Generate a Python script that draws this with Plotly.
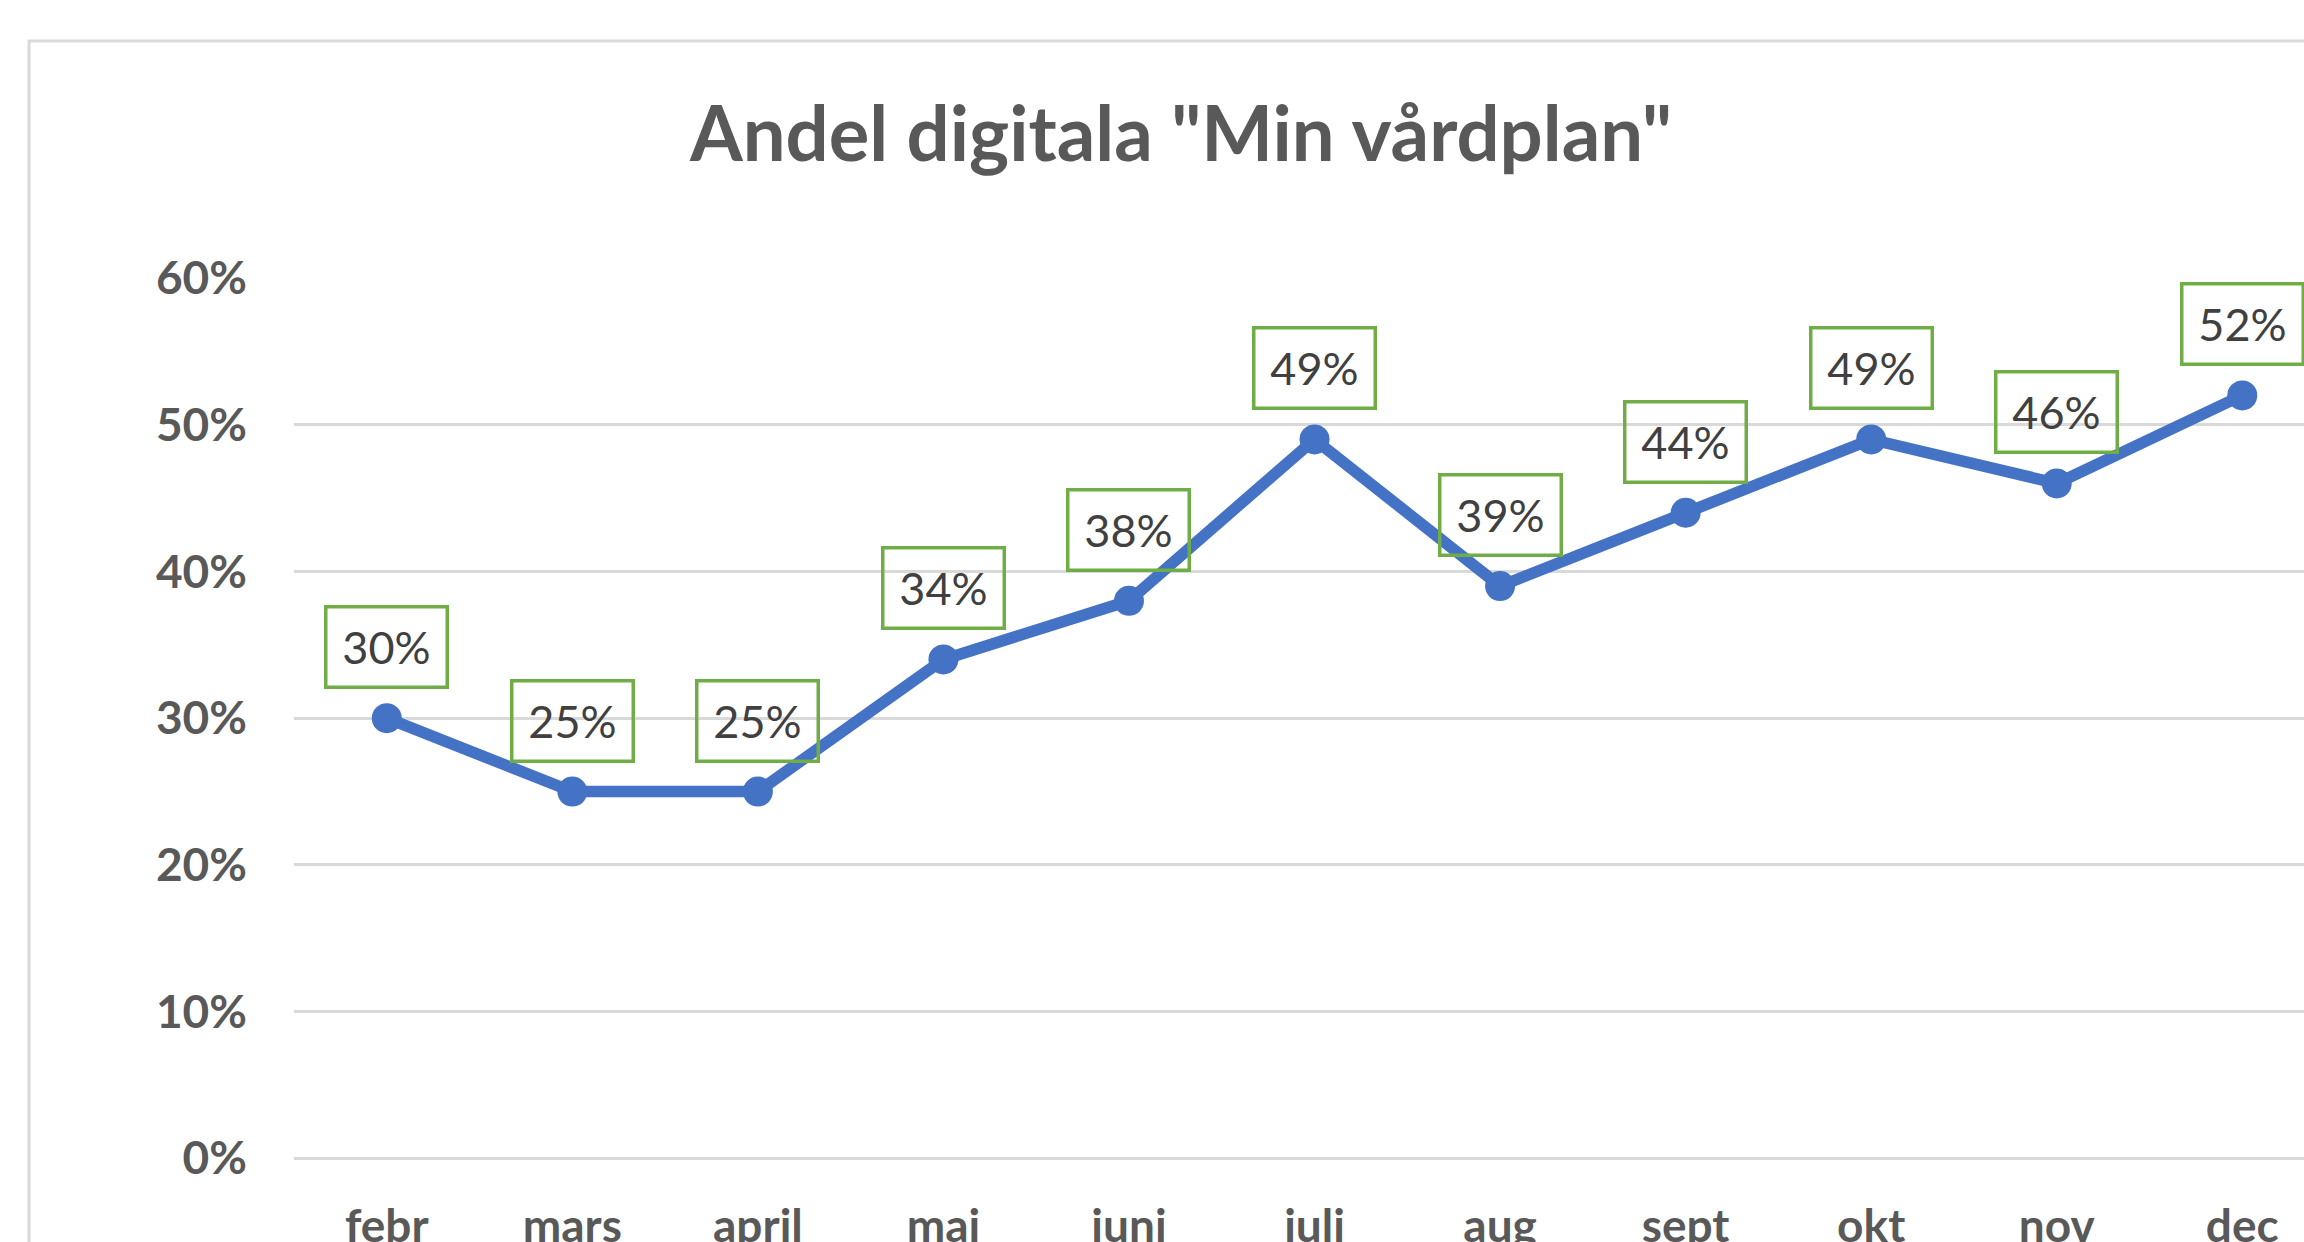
import plotly.graph_objects as go

months = ["febr", "mars", "april", "maj", "juni", "juli", "aug", "sept", "okt", "nov", "dec"]
values = [0.30, 0.25, 0.25, 0.34, 0.38, 0.49, 0.39, 0.44, 0.49, 0.46, 0.52]
y_ticks = [0, 0.1, 0.2, 0.3, 0.4, 0.5, 0.6]
title_text = 'Andel digitala "Min vårdplan"'

W, H = 2304, 1242
FONT = "Lato"

fig = go.Figure()
fig.add_trace(go.Scatter(
    x=list(range(len(months))), y=values, mode="lines+markers",
    line=dict(color="#4472C4", width=11.5),
    marker=dict(color="#4472C4", size=30),
    hoverinfo="skip", showlegend=False,
))

for i, v in enumerate(values):
    fig.add_annotation(
        x=i, y=v, xref="x", yref="y", text=f"{round(v*100)}%",
        showarrow=False, xanchor="center", yanchor="middle", yshift=71,
        font=dict(family=FONT, size=45, color="#404040"),
        bordercolor="#70AD47", borderwidth=3.5, borderpad=0,
        width=118, height=77, bgcolor="rgba(0,0,0,0)",
    )

# outer chart border (extends beyond the visible area on right/bottom)
fig.add_shape(type="rect", xref="paper", yref="paper",
              x0=(29 - 294) / 2010, x1=1.2, y0=-0.3, y1=(1173 - 41) / 895,
              line=dict(color="#D9D9D9", width=3), fillcolor="rgba(0,0,0,0)",
              layer="below")

fig.update_layout(
    width=W, height=H,
    margin=dict(l=294, r=0, t=278, b=69, autoexpand=False),
    paper_bgcolor="white", plot_bgcolor="white",
    title=dict(text=title_text, x=1181 / W, xanchor="center",
               y=1 - 134 / H, yanchor="middle", yref="container",
               font=dict(family=FONT, size=76, color="#595959", weight="bold")),
    font=dict(family=FONT),
)
fig.update_xaxes(
    range=[-0.5, -0.5 + 2010 / 185.55], automargin=False,
    tickmode="array", tickvals=list(range(len(months))), ticktext=months,
    showgrid=False, zeroline=False, showline=False,
    ticks="", ticklabelstandoff=22,
    tickfont=dict(family=FONT, size=46, color="#595959", weight="bold"),
)
fig.update_yaxes(
    range=[-0.01, 0.6], automargin=False, tickmode="array", tickvals=y_ticks,
    ticktext=[f"{round(t*100)}%" for t in y_ticks],
    showgrid=True, gridcolor="#D9D9D9", gridwidth=3,
    zeroline=False, showline=False, ticks="", ticklabelstandoff=46,
    tickfont=dict(family=FONT, size=46, color="#595959", weight="bold"),
)

fig.write_html("out.html")
